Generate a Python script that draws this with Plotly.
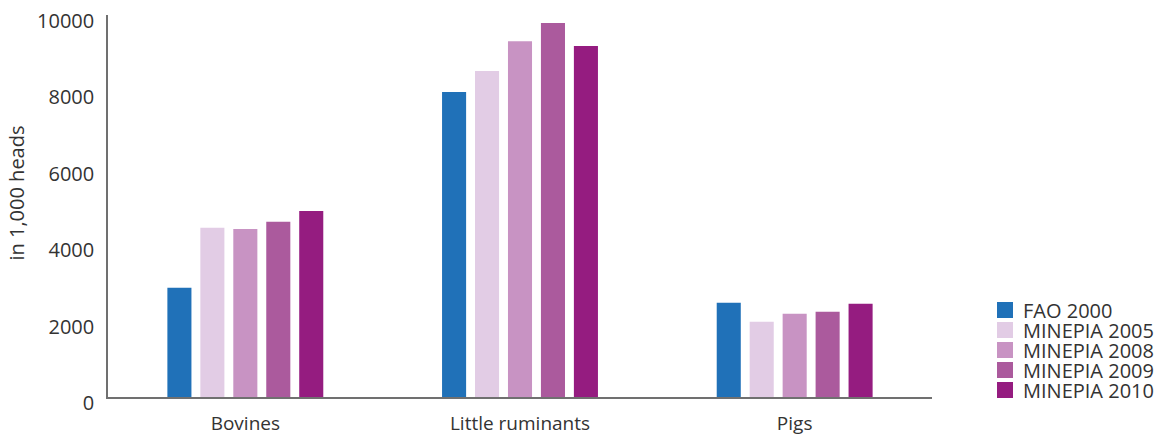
import plotly.graph_objects as go

# Livestock numbers by category, in thousands of heads
categories = ["Bovines", "Little ruminants", "Pigs"]
series_names = ["FAO 2000", "MINEPIA 2005", "MINEPIA 2008", "MINEPIA 2009", "MINEPIA 2010"]
fao_2000 = [2860, 7985, 2465]
minepia_2005 = [4430, 8535, 1970]
minepia_2008 = [4400, 9315, 2180]
minepia_2009 = [4585, 9790, 2230]
minepia_2010 = [4870, 9190, 2440]
y_ticks = [0, 2000, 4000, 6000, 8000, 10000]
y_title = "in 1,000 heads"

series_values = [fao_2000, minepia_2005, minepia_2008, minepia_2009, minepia_2010]
colors = ["#2071B8", "#E2CCE5", "#C893C3", "#AB5A9D", "#951C80"]

FONT = "Open Sans"
TEXT = "#333333"
AXIS = "#707070"

W, H = 1161, 435
M_L, M_R, M_T, M_B = 108, 229, 15, 38
plot_w = W - M_L - M_R
plot_h = H - M_T - M_B


def px_x(px):
    return (px - M_L) / plot_w


def px_y(py):
    return (H - M_B - py) / plot_h


fig = go.Figure()
for name, vals, col in zip(series_names, series_values, colors):
    fig.add_trace(go.Bar(
        x=categories, y=vals, name=name,
        marker=dict(color=col, line=dict(width=0)),
        showlegend=False,
    ))

# Legend: coloured squares with labels on the right of the plot
sw_left_px = 997
sw_size_px = 16
row_step_px = 20
first_center_px = 310
shapes = []
annotations = []
for i, (name, col) in enumerate(zip(series_names, colors)):
    cy = first_center_px + i * row_step_px
    shapes.append(dict(type="rect", xref="paper", yref="paper",
                       x0=px_x(sw_left_px), x1=px_x(sw_left_px + sw_size_px),
                       y0=px_y(cy + sw_size_px / 2), y1=px_y(cy - sw_size_px / 2),
                       fillcolor=col, line=dict(width=0)))
    annotations.append(dict(
        xref="paper", yref="paper",
        x=px_x(sw_left_px + sw_size_px + 9), y=px_y(cy),
        xanchor="left", yanchor="middle", showarrow=False,
        height=row_step_px, borderpad=0, valign="middle",
        text=name, font=dict(family=FONT, size=20, color=TEXT),
    ))

# Vertical axis title
annotations.append(dict(
    xref="paper", yref="paper", x=px_x(1), y=px_y(193),
    xanchor="left", yanchor="middle", showarrow=False, textangle=-90,
    borderpad=0,
    text=y_title, font=dict(family=FONT, size=20, color=TEXT),
))

fig.update_layout(
    width=W, height=H,
    margin=dict(l=M_L, r=M_R, t=M_T, b=M_B, pad=0, autoexpand=False),
    paper_bgcolor="white", plot_bgcolor="white",
    barmode="group", bargap=0.4, bargroupgap=0.27,
    font=dict(family=FONT, size=20, color=TEXT),
    shapes=shapes, annotations=annotations,
    showlegend=False,
)
fig.update_xaxes(
    automargin=False,
    showline=True, linecolor=AXIS, linewidth=1.5,
    showgrid=False, ticks="", zeroline=False,
    ticklabelstandoff=8,
    tickfont=dict(family=FONT, size=19, color=TEXT),
)
fig.update_yaxes(
    automargin=False,
    range=[0, 10000], tickvals=y_ticks, ticktext=[str(v) for v in y_ticks],
    showline=True, linecolor=AXIS, linewidth=1.5,
    showgrid=False, zeroline=False, ticks="",
    ticklabelstandoff=8, ticklabelshift=6,
    tickfont=dict(family=FONT, size=20, color=TEXT),
)

fig.write_html("out.html")
